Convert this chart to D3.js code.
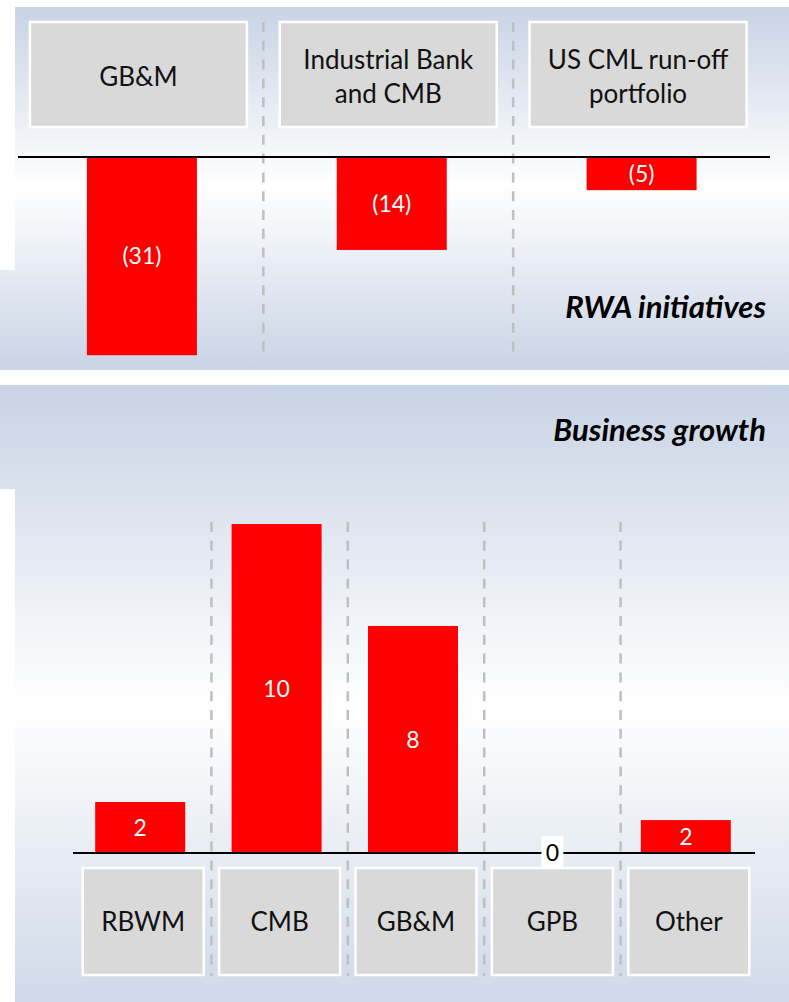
<!DOCTYPE html>
<html>
<head>
<meta charset="utf-8">
<script src="https://cdn.jsdelivr.net/npm/d3@7"></script>
<style>
  html, body { margin: 0; padding: 0; background: #ffffff; }
  svg { display: block; }
  text { font-family: Lato, "Open Sans", sans-serif; }
</style>
</head>
<body>
<script>
// ---------- data ----------
const topCategories = ["GB&M", "Industrial Bank|and CMB", "US CML run-off|portfolio"];
const topValues = [-30.5, -14.3, -5.1];
const topLabels = ["(31)", "(14)", "(5)"];
const topTitle = "RWA initiatives";

const bottomCategories = ["RBWM", "CMB", "GB&M", "GPB", "Other"];
const bottomValues = [1.55, 10.0, 6.9, 0, 1.0];
const bottomLabels = ["2", "10", "8", "0", "2"];
const bottomTitle = "Business growth";

// ---------- setup ----------
const W = 789, H = 1002;
const svg = d3.select("body").append("svg").attr("width", W).attr("height", H);
const defs = svg.append("defs");

function grad(id, y0, y1) {
  const g = defs.append("linearGradient").attr("id", id)
    .attr("gradientUnits", "userSpaceOnUse")
    .attr("x1", 0).attr("x2", 0).attr("y1", y0).attr("y2", y1);
  g.append("stop").attr("offset", "0%").attr("stop-color", "#c8d3e5");
  g.append("stop").attr("offset", "49%").attr("stop-color", "#ffffff");
  g.append("stop").attr("offset", "100%").attr("stop-color", "#c9d4e6");
}
grad("gTop", 7, 370);
grad("gBot", 385, 1002 + 40);

// panel backgrounds
svg.append("rect").attr("x", 15).attr("y", 7).attr("width", W - 15).attr("height", 363).attr("fill", "url(#gTop)");
svg.append("rect").attr("x", 0).attr("y", 270).attr("width", 16).attr("height", 100).attr("fill", "url(#gTop)");
svg.append("rect").attr("x", 15).attr("y", 385).attr("width", W - 15).attr("height", H - 385).attr("fill", "url(#gBot)");
svg.append("rect").attr("x", 0).attr("y", 385).attr("width", 16).attr("height", 104).attr("fill", "url(#gBot)");

const red = "#ff0000";
const dash = "10,8.8";

// ---------- top panel ----------
const xTop = d3.scaleBand().domain(topCategories).range([13.5, 763]).paddingInner(0).paddingOuter(0);
const zeroTop = 157;
const yTop = d3.scaleLinear().domain([-31, 0]).range([zeroTop + 201.5, zeroTop]);

const gTop = svg.append("g");
// separators
gTop.selectAll("line.sep").data(topCategories.slice(1)).join("line")
  .attr("class", "sep")
  .attr("x1", d => xTop(d)).attr("x2", d => xTop(d))
  .attr("y1", 22).attr("y2", 352)
  .attr("stroke", "#bfbfbf").attr("stroke-width", 2.5).attr("stroke-dasharray", dash);

// header boxes
const boxW = 217;
gTop.selectAll("rect.box").data(topCategories).join("rect")
  .attr("class", "box")
  .attr("x", d => xTop(d) + xTop.bandwidth() / 2 - boxW / 2)
  .attr("y", 22).attr("width", boxW).attr("height", 105)
  .attr("fill", "#d9d9d9").attr("stroke", "#ffffff").attr("stroke-width", 2.5);

gTop.selectAll("text.cat").data(topCategories).join("text")
  .attr("class", "cat")
  .attr("text-anchor", "middle")
  .attr("font-size", 26)
  .attr("fill", "#111")
  .each(function (d) {
    const lines = d.split("|");
    const cx = xTop(d) + xTop.bandwidth() / 2;
    const t = d3.select(this);
    const lh = 34;
    const startY = 77 - (lines.length - 1) * lh / 2;
    lines.forEach((ln, i) => {
      t.append("tspan").attr("x", cx).attr("y", startY + i * lh).attr("dy", "0.35em").text(ln);
    });
  });

// bars
const barWTop = 110;
gTop.selectAll("rect.bar").data(topValues).join("rect")
  .attr("class", "bar")
  .attr("x", (d, i) => xTop(topCategories[i]) + xTop.bandwidth() / 2 + 3.5 - barWTop / 2)
  .attr("y", d => yTop(0))
  .attr("width", barWTop)
  .attr("height", d => yTop(d) - yTop(0))
  .attr("fill", red);

// zero line
gTop.append("line").attr("x1", 18).attr("x2", 770).attr("y1", yTop(0)).attr("y2", yTop(0))
  .attr("stroke", "#000").attr("stroke-width", 2);

gTop.selectAll("text.val").data(topValues).join("text")
  .attr("class", "val")
  .attr("x", (d, i) => xTop(topCategories[i]) + xTop.bandwidth() / 2 + 3.5)
  .attr("y", d => (yTop(d) + yTop(0)) / 2)
  .attr("dy", "0.35em")
  .attr("text-anchor", "middle")
  .attr("font-size", 23)
  .attr("fill", "#fff")
  .text((d, i) => topLabels[i]);

gTop.append("text").attr("x", 766).attr("y", 318)
  .attr("text-anchor", "end").attr("font-size", 31).attr("font-weight", "bold").attr("font-style", "italic")
  .attr("fill", "#000").text(topTitle);

// ---------- bottom panel ----------
const xBot = d3.scaleBand().domain(bottomCategories).range([75, 757]).paddingInner(0).paddingOuter(0);
const zeroBot = 853;
const yBot = d3.scaleLinear().domain([0, 10]).range([zeroBot, 524]);

const gBot = svg.append("g");
gBot.selectAll("line.sep").data(bottomCategories.slice(1)).join("line")
  .attr("class", "sep")
  .attr("x1", d => xBot(d)).attr("x2", d => xBot(d))
  .attr("y1", 522).attr("y2", 976)
  .attr("stroke", "#bfbfbf").attr("stroke-width", 2.5).attr("stroke-dasharray", dash);

const barWBot = 90;
gBot.selectAll("rect.bar").data(bottomValues).join("rect")
  .attr("class", "bar")
  .attr("x", (d, i) => xBot(bottomCategories[i]) + xBot.bandwidth() / 2 - 3 - barWBot / 2)
  .attr("y", d => yBot(d))
  .attr("width", barWBot)
  .attr("height", d => yBot(0) - yBot(d))
  .attr("fill", red);

gBot.append("line").attr("x1", 73).attr("x2", 755).attr("y1", yBot(0)).attr("y2", yBot(0))
  .attr("stroke", "#000").attr("stroke-width", 2);

// category boxes
const boxWB = 121;
gBot.selectAll("rect.box").data(bottomCategories).join("rect")
  .attr("class", "box")
  .attr("x", d => xBot(d) + xBot.bandwidth() / 2 - boxWB / 2)
  .attr("y", 868).attr("width", boxWB).attr("height", 107)
  .attr("fill", "#d9d9d9").attr("stroke", "#ffffff").attr("stroke-width", 2.5);

gBot.selectAll("text.cat").data(bottomCategories).join("text")
  .attr("class", "cat")
  .attr("x", d => xBot(d) + xBot.bandwidth() / 2)
  .attr("y", 922).attr("dy", "0.35em")
  .attr("text-anchor", "middle").attr("font-size", 26).attr("fill", "#111")
  .text(d => d);

// value labels
bottomValues.forEach((v, i) => {
  const cx = xBot(bottomCategories[i]) + xBot.bandwidth() / 2 - 3;
  if (v === 0) {
    const cx0 = xBot(bottomCategories[i]) + xBot.bandwidth() / 2;
    gBot.append("rect").attr("x", cx0 - 11).attr("y", zeroBot - 17).attr("width", 22).attr("height", 32).attr("fill", "#fff");
    gBot.append("text").attr("x", cx0).attr("y", zeroBot).attr("dy", "0.35em")
      .attr("text-anchor", "middle").attr("font-size", 23).attr("fill", "#000").text(bottomLabels[i]);
  } else {
    gBot.append("text").attr("x", cx).attr("y", (yBot(v) + yBot(0)) / 2).attr("dy", "0.35em")
      .attr("text-anchor", "middle").attr("font-size", 23).attr("fill", "#fff").text(bottomLabels[i]);
  }
});

gBot.append("text").attr("x", 766).attr("y", 441)
  .attr("text-anchor", "end").attr("font-size", 31).attr("font-weight", "bold").attr("font-style", "italic")
  .attr("fill", "#000").text(bottomTitle);
</script>
</body>
</html>
